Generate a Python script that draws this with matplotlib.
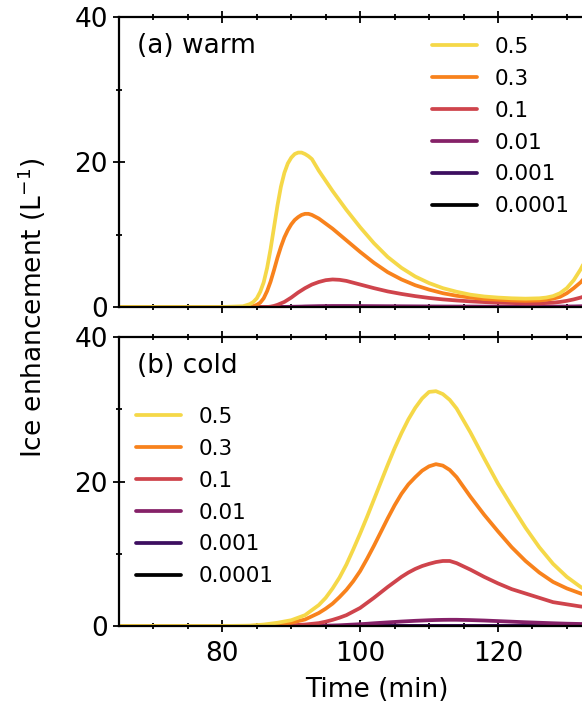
import numpy as np
import matplotlib
matplotlib.use("Agg")
import matplotlib.pyplot as plt

# ---- data -------------------------------------------------------------
labels = ["0.5", "0.3", "0.1", "0.01", "0.001", "0.0001"]
colors = ["#f5d848", "#f8821c", "#cf444c", "#852168", "#3d0f60", "#000000"]

# (a) warm
time_a = [65, 80, 83, 84,
          84.5, 85, 85.5, 86, 86.5, 87, 87.5, 88, 88.5, 89, 89.5, 90, 90.5, 91, 91.5, 92, 92.5, 93,
          94, 95, 96, 97, 98,
          100, 102, 104, 106, 108, 110, 112, 114, 116, 118, 120, 122, 124, 126,
          127, 128, 129, 130, 131, 132, 133]
warm_05 = [0, 0, 0.1, 0.4,
           0.7, 1.2, 2.1, 3.4, 5.4, 8.0, 11.0, 14.0, 16.6, 18.5, 19.8, 20.6, 21.1, 21.3, 21.3, 21.1, 20.8, 20.4,
           18.8, 17.4, 16.0, 14.7, 13.4,
           11.0, 8.8, 6.9, 5.4, 4.2, 3.3, 2.6, 2.1, 1.7, 1.45, 1.3, 1.2, 1.15, 1.2,
           1.3, 1.5, 1.9, 2.6, 3.7, 5.2, 7.0]
warm_03 = [0, 0, 0, 0.05,
           0.12, 0.3, 0.6, 1.2, 2.2, 3.5, 5.1, 6.8, 8.3, 9.6, 10.6, 11.4, 12.0, 12.4, 12.7, 12.85, 12.85, 12.7,
           12.2, 11.5, 10.8, 10.0, 9.2,
           7.6, 6.1, 4.8, 3.8, 3.0, 2.4, 1.9, 1.55, 1.3, 1.1, 1.0, 0.9, 0.85, 0.9,
           1.0, 1.15, 1.4, 1.9, 2.6, 3.4, 4.5]
warm_01 = [0, 0, 0, 0,
           0, 0, 0, 0, 0, 0.05, 0.15, 0.3, 0.5, 0.7, 1.0, 1.3, 1.65, 2.0, 2.3, 2.6, 2.85, 3.1,
           3.45, 3.7, 3.8, 3.75, 3.6,
           3.1, 2.6, 2.15, 1.8, 1.5, 1.25, 1.05, 0.9, 0.78, 0.68, 0.6, 0.55, 0.5, 0.5,
           0.55, 0.6, 0.7, 0.85, 1.05, 1.3, 1.6]
warm_001 = [0, 0, 0, 0,
            0, 0, 0, 0, 0, 0, 0, 0, 0.005, 0.01, 0.02, 0.03, 0.04, 0.05, 0.06, 0.08, 0.09, 0.1,
            0.12, 0.13, 0.14, 0.14, 0.14,
            0.13, 0.12, 0.11, 0.1, 0.09, 0.08, 0.07, 0.06, 0.06, 0.05, 0.05, 0.05, 0.05, 0.05,
            0.05, 0.06, 0.06, 0.07, 0.08, 0.1, 0.12]
warm_0001 = [0] * len(time_a)
warm_00001 = [0] * len(time_a)

# (b) cold
time_b = [65, 80, 84, 86, 88, 90, 92,
          94, 95, 96, 97, 98, 99, 100, 101, 102, 103, 104, 105, 106, 107, 108,
          109, 110, 111, 112, 113, 114,
          116, 118, 120, 122, 124, 126, 128, 130, 132, 134]
cold_05 = [0, 0, 0.05, 0.2, 0.45, 0.8, 1.5,
           2.9, 3.9, 5.2, 6.7, 8.5, 10.6, 12.8, 15.1, 17.5, 19.9, 22.3, 24.6, 26.7, 28.6, 30.2,
           31.5, 32.4, 32.5, 32.1, 31.3, 30.1,
           26.8, 23.2, 19.7, 16.6, 13.6, 10.9, 8.6, 6.8, 5.4, 4.3]
cold_03 = [0, 0, 0.02, 0.1, 0.25, 0.45, 0.9,
           1.8, 2.4, 3.1, 4.0, 5.0, 6.2, 7.6, 9.3, 11.1, 13.0, 14.9, 16.7, 18.3, 19.6, 20.6,
           21.5, 22.1, 22.4, 22.2, 21.6, 20.6,
           17.9, 15.4, 13.1, 10.9, 9.0, 7.4, 6.1, 5.2, 4.5, 3.9]
cold_01 = [0, 0, 0, 0, 0.05, 0.1, 0.2,
           0.4, 0.6, 0.85, 1.15, 1.5, 2.0, 2.5, 3.2, 3.9, 4.65, 5.4, 6.1, 6.8, 7.4, 7.9,
           8.3, 8.6, 8.85, 9.0, 9.0, 8.7,
           7.8, 6.8, 5.9, 5.1, 4.5, 3.9, 3.3, 3.0, 2.7, 2.5]
cold_001 = [0, 0, 0, 0, 0, 0, 0,
            0.03, 0.05, 0.07, 0.1, 0.15, 0.2, 0.25, 0.31, 0.38, 0.44, 0.5, 0.56, 0.62, 0.67, 0.72,
            0.76, 0.8, 0.83, 0.85, 0.86, 0.86,
            0.82, 0.76, 0.68, 0.6, 0.52, 0.45, 0.38, 0.32, 0.28, 0.24]
cold_0001 = [0] * len(time_b)
cold_00001 = [0] * len(time_b)

warm = [warm_05, warm_03, warm_01, warm_001, warm_0001, warm_00001]
cold = [cold_05, cold_03, cold_01, cold_001, cold_0001, cold_00001]

# ---- figure ------------------------------------------------------------
W, H = 582, 703
fig = plt.figure(figsize=(W / 100, H / 100), dpi=100)

def px(x0, y_top, y_bot, x1):
    return [x0 / W, 1 - y_bot / H, (x1 - x0) / W, (y_bot - y_top) / H]

# axes run off the right edge of the picture, as in the reference crop
x_right = 119 + (140 - 65) * 6.89
ax_a = fig.add_axes(px(119, 17, 307, x_right))
ax_b = fig.add_axes(px(119, 337, 626, x_right))

for ax, t, series, title in [(ax_a, time_a, warm, "(a) warm"), (ax_b, time_b, cold, "(b) cold")]:
    for vals, c, lab in zip(series[::-1], colors[::-1], labels[::-1]):
        ax.plot(t, vals, color=c, lw=2.7, label=lab, solid_capstyle="round")
    ax.set_xlim(65, 140)
    ax.set_ylim(0, 40)
    ax.set_yticks([0, 20, 40])
    ax.set_yticks([10, 30], minor=True)
    ax.set_xticks([80, 100, 120, 140])
    ax.set_xticklabels(["80", "100", "120", ""])
    ax.set_xticks(np.arange(70, 141, 5), minor=True)
    ax.tick_params(which="both", direction="inout", top=True, right=False,
                   labelsize=19, width=1.3)
    ax.tick_params(which="major", length=9)
    ax.tick_params(which="minor", length=5)
    ax.tick_params(axis="x", which="major", pad=6.5)
    for s in ax.spines.values():
        s.set_linewidth(1.6)
    ax.text(18 / (x_right - 119), 0.945, title, transform=ax.transAxes,
            fontsize=19, va="top", ha="left")

ax_a.tick_params(labelbottom=False)
ax_b.set_xlabel("Time (min)", fontsize=19, labelpad=7)

leg_kw = dict(frameon=False, fontsize=15.5, handlelength=2.1, handletextpad=0.8,
              labelspacing=0.55, borderpad=0, borderaxespad=0, loc="upper left",
              bbox_transform=fig.transFigure)
h, l = ax_a.get_legend_handles_labels()
ax_a.legend(h[::-1], l[::-1], bbox_to_anchor=(432 / W, 1 - 37 / H), **leg_kw)
h, l = ax_b.get_legend_handles_labels()
ax_b.legend(h[::-1], l[::-1], bbox_to_anchor=(136 / W, 1 - 407 / H), **leg_kw)

fig.text(32 / W, 1 - 308 / H, "Ice enhancement (L$^{-1}$)", rotation=90,
         fontsize=19, ha="center", va="center")

fig.savefig("out.png", dpi=100)
